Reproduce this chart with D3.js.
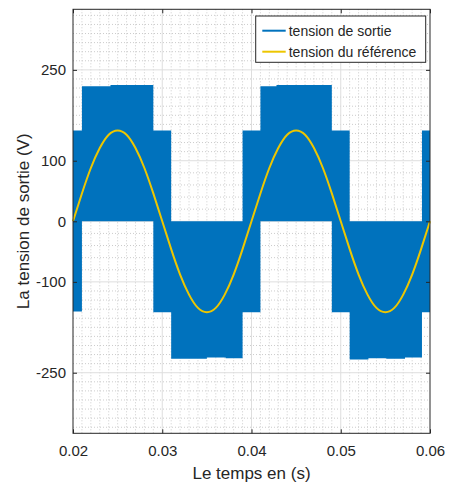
<!DOCTYPE html>
<html>
<head>
<meta charset="utf-8">
<script src="https://cdn.jsdelivr.net/npm/d3@7"></script>
<style>
  body { margin: 0; background: #fff; }
  svg { display: block; font-family: "Liberation Sans", Arial, sans-serif; }
</style>
</head>
<body>
<div id="chart"></div>
<script>
// tick labels
const xTicks = [0.02, 0.03, 0.04, 0.05, 0.06];
const yTicks = [-250, -100, 0, 100, 250];

// output voltage envelope (PWM band), one entry per segment start, last = end
const segTime = [0.0200, 0.0210, 0.0242, 0.0290, 0.0310, 0.0350, 0.0371, 0.0390,
  0.0410, 0.0428, 0.0490, 0.0510, 0.0531, 0.0551, 0.0572, 0.0591, 0.0600];
const segHigh = [150, 223, 225, 150, 0, 0, 0, 150, 223, 225, 150, 0, 0, 0, 0, 150, 150];
const segLow = [-149, 0, 0, -150, -227, -225, -226, -150, 0, 0, -150, -228, -226, -227, -225, -150, -150];

// reference voltage, sampled every 1 ms from 0.02 s
const refStart = 0.02;
const refStep = 0.001;
const refValues = [0, 46, 88, 121, 143, 150, 143, 121, 88, 46, 0, -46, -88, -121, -143, -150,
  -143, -121, -88, -46, 0, 46, 88, 121, 143, 150, 143, 121, 88, 46, 0, -46, -88, -121, -143,
  -150, -143, -121, -88, -46, 0];

const seriesNames = ['tension de sortie', 'tension du référence'];
const seriesColors = ['#0072BD', '#EDC600'];

const width = 449;
const height = 486;
const plotLeft = 73;
const plotRight = 430;
const plotTop = 9.3;
const plotBottom = 433.3;

const x = d3.scaleLinear().domain([0.02, 0.06]).range([plotLeft, plotRight]);
const y = d3.scaleLinear().domain([-350, 350]).range([plotBottom, plotTop]);

const svg = d3.select('#chart').append('svg')
  .attr('width', width)
  .attr('height', height);

// minor grid
const xMinor = d3.range(21, 60).filter(d => d % 10 !== 0).map(d => d / 1000);
const yMinor = [];
[20, 40, 60, 80].forEach(v => { yMinor.push(v, -v); });
for (let v = 115; v <= 340; v += 15) {
  if (v !== 250) yMinor.push(v, -v);
}

const grid = svg.append('g').attr('class', 'grid');
grid.selectAll('.xminor').data(xMinor).enter().append('line')
  .attr('x1', d => x(d)).attr('x2', d => x(d))
  .attr('y1', plotTop).attr('y2', plotBottom)
  .attr('stroke', '#cccccc').attr('stroke-dasharray', '1,2');
grid.selectAll('.yminor').data(yMinor).enter().append('line')
  .attr('x1', plotLeft).attr('x2', plotRight)
  .attr('y1', d => y(d)).attr('y2', d => y(d))
  .attr('stroke', '#cccccc').attr('stroke-dasharray', '1,2');
grid.selectAll('.xmajor').data(xTicks.slice(1, -1)).enter().append('line')
  .attr('x1', d => x(d)).attr('x2', d => x(d))
  .attr('y1', plotTop).attr('y2', plotBottom)
  .attr('stroke', '#dedede');
grid.selectAll('.ymajor').data(yTicks).enter().append('line')
  .attr('x1', plotLeft).attr('x2', plotRight)
  .attr('y1', d => y(d)).attr('y2', d => y(d))
  .attr('stroke', '#dedede');

// output voltage band
const band = segTime.map((t, i) => ({ t, hi: segHigh[i], lo: segLow[i] }));
const area = d3.area()
  .curve(d3.curveStepAfter)
  .x(d => x(d.t))
  .y0(d => y(d.lo))
  .y1(d => y(d.hi));
svg.append('path')
  .datum(band)
  .attr('d', area)
  .attr('fill', seriesColors[0]);

// reference sine
const ref = refValues.map((v, i) => ({ t: refStart + i * refStep, v }));
const line = d3.line()
  .curve(d3.curveNatural)
  .x(d => x(d.t))
  .y(d => y(d.v));
svg.append('path')
  .datum(ref)
  .attr('d', line)
  .attr('fill', 'none')
  .attr('stroke', seriesColors[1])
  .attr('stroke-width', 2);

// axes box and ticks
const axisColor = '#262626';
svg.append('rect')
  .attr('x', plotLeft).attr('y', plotTop)
  .attr('width', plotRight - plotLeft).attr('height', plotBottom - plotTop)
  .attr('fill', 'none').attr('stroke', axisColor).attr('stroke-width', 1);

const xAxis = d3.axisBottom(x).tickValues(xTicks).tickSizeInner(-4).tickSizeOuter(0)
  .tickPadding(12).tickFormat(d3.format('.2f'));
const gx = svg.append('g').attr('transform', `translate(0,${plotBottom})`).call(xAxis);
svg.append('g').attr('transform', `translate(0,${plotTop})`)
  .call(d3.axisTop(x).tickValues(xTicks).tickSizeInner(-4).tickSizeOuter(0).tickFormat(''));

// plain hyphen for negative labels, as in the original
const yAxis = d3.axisLeft(y).tickValues(yTicks).tickSizeInner(-4).tickSizeOuter(0)
  .tickPadding(7).tickFormat(d => String(d));
const gy = svg.append('g').attr('transform', `translate(${plotLeft},0)`).call(yAxis);
svg.append('g').attr('transform', `translate(${plotRight},0)`)
  .call(d3.axisRight(y).tickValues(yTicks).tickSizeInner(-4).tickSizeOuter(0).tickFormat(''));

svg.selectAll('.domain').remove();
svg.selectAll('.tick line').attr('stroke', axisColor);
svg.selectAll('.tick text').attr('fill', axisColor);
gx.selectAll('text').style('font-size', '15px');
gy.selectAll('text').style('font-size', '15px');
svg.selectAll('g').attr('font-family', null);

// axis labels
svg.append('text')
  .attr('x', (plotLeft + plotRight) / 2)
  .attr('y', 479)
  .attr('text-anchor', 'middle')
  .attr('fill', axisColor)
  .style('font-size', '17px')
  .text('Le temps en (s)');

svg.append('text')
  .attr('transform', `translate(28.5,${(plotTop + plotBottom) / 2}) rotate(-90)`)
  .attr('text-anchor', 'middle')
  .attr('fill', axisColor)
  .style('font-size', '17px')
  .text('La tension de sortie (V)');

// legend
const legend = svg.append('g').attr('transform', 'translate(255.7,16)');
legend.append('rect')
  .attr('width', 170).attr('height', 46.3)
  .attr('fill', '#fff').attr('stroke', axisColor).attr('stroke-width', 1);
const items = legend.selectAll('.item').data(seriesNames).enter().append('g')
  .attr('transform', (d, i) => `translate(0,${14.7 + i * 21})`);
items.append('line')
  .attr('x1', 6.6).attr('x2', 30)
  .attr('stroke', (d, i) => seriesColors[i])
  .attr('stroke-width', 2);
items.append('text')
  .attr('x', 33)
  .attr('dy', '0.35em')
  .attr('fill', axisColor)
  .style('font-size', '14px')
  .text(d => d);
</script>
</body>
</html>
